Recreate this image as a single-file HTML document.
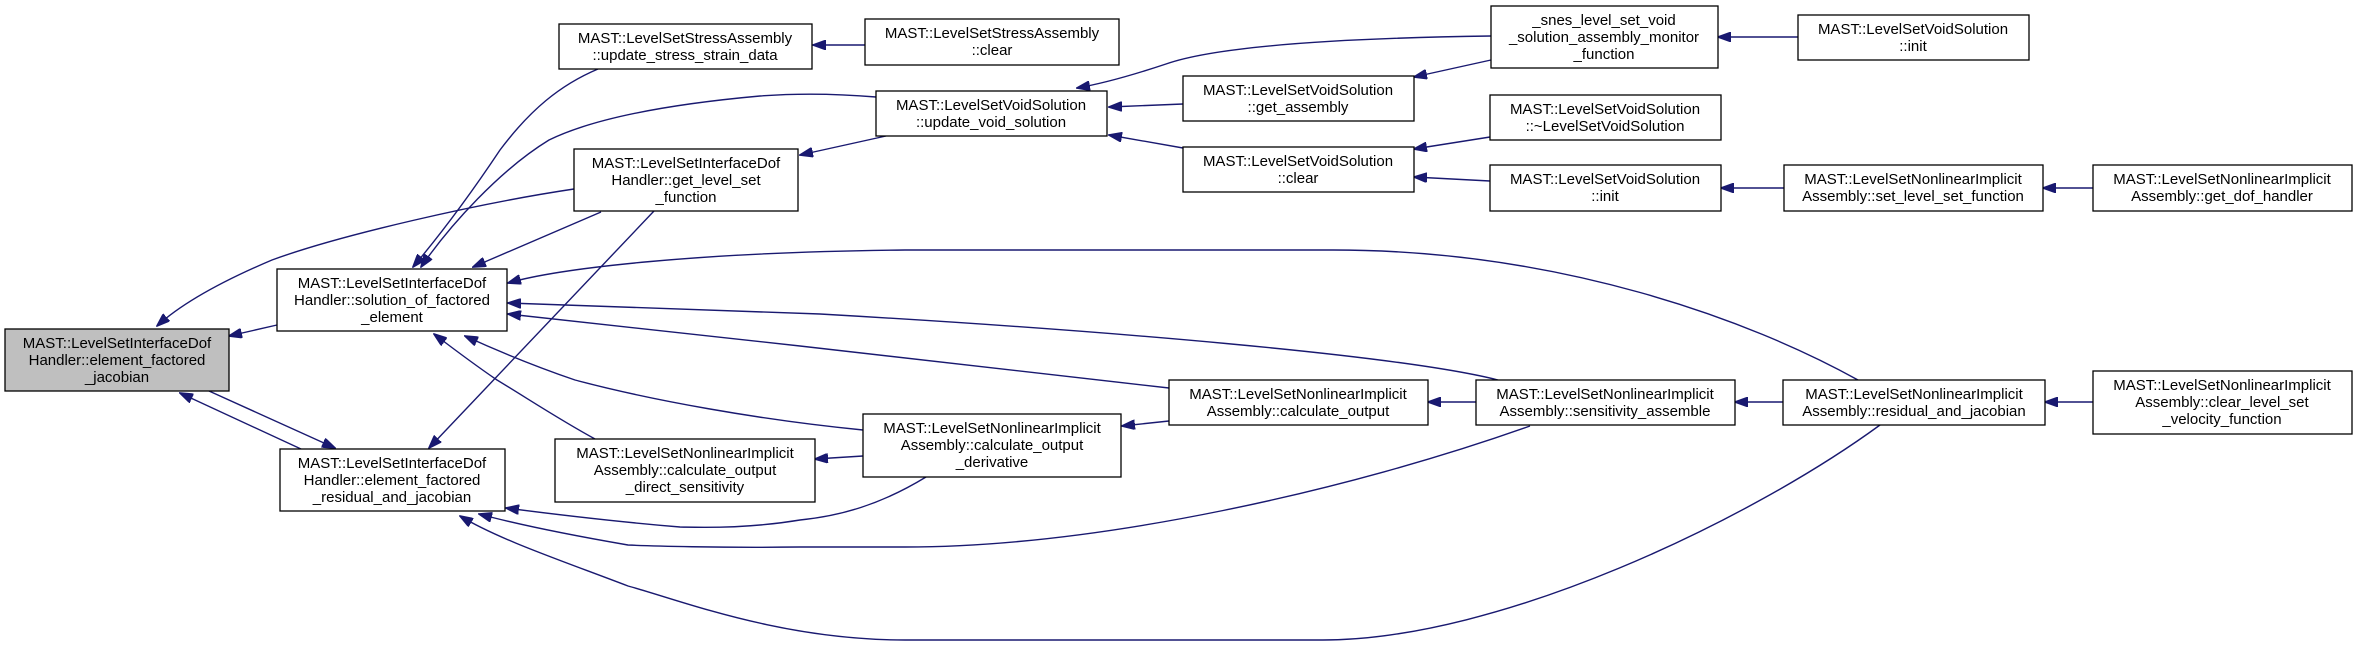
<!DOCTYPE html>
<html><head><meta charset="utf-8"><style>html,body{margin:0;padding:0;background:#fff}svg{display:block}text{font-family:"Liberation Sans",sans-serif;font-size:15px;fill:#000}</style></head>
<body>
<svg width="2357" height="647" viewBox="0 0 2357 647" xmlns="http://www.w3.org/2000/svg">
<defs><marker id="a" markerWidth="14" markerHeight="10" refX="13" refY="5" orient="auto" markerUnits="userSpaceOnUse"><path d="M0,0 L14,5 L0,10 Z" fill="#191970" stroke="#191970"/></marker></defs>
<g fill="none" stroke="#191970" stroke-width="1.4" marker-end="url(#a)">
<path d="M277,325 L229,336"/>
<path d="M574,189 C480,203 340,235 272,260 C220,282 180,305 157,326"/>
<path d="M301,449 L180,393"/>
<path d="M209,391 L335,448"/>
<path d="M598,69 C560,85 530,110 500,150 C470,195 440,235 413,267"/>
<path d="M876,97 C840,94 800,93 760,96 C660,105 590,120 549,140 C500,170 450,225 421,267"/>
<path d="M601,212 L473,267"/>
<path d="M886,136 L800,155"/>
<path d="M865,45 L813,45"/>
<path d="M1183,104 L1109,107"/>
<path d="M1183,148 L1109,135"/>
<path d="M1491,36 C1350,38 1220,45 1166,64 C1130,76 1100,84 1077,88"/>
<path d="M1491,60 L1414,77"/>
<path d="M1490,137 L1414,149"/>
<path d="M1490,181 L1414,177"/>
<path d="M1798,37 L1718,37"/>
<path d="M1784,188 L1721,188"/>
<path d="M2093,188 L2043,188"/>
<path d="M2093,402 L2045,402"/>
<path d="M1783,402 L1735,402"/>
<path d="M1476,402 L1428,402"/>
<path d="M1169,421 L1122,426"/>
<path d="M863,456 L815,459"/>
<path d="M1858,380 C1750,320 1560,250 1333,250 L905,250 C700,252 560,268 508,283"/>
<path d="M1498,380 C1400,355 1100,330 820,314 L508,303"/>
<path d="M1169,388 L800,346 L508,314"/>
<path d="M863,430 C760,420 650,400 575,380 C540,368 500,352 465,336"/>
<path d="M595,439 C560,420 530,400 497,380 C475,365 455,350 434,334"/>
<path d="M654,211 L429,448"/>
<path d="M926,477 C880,505 840,516 800,520 C740,530 690,527 680,527 C620,522 560,515 506,508"/>
<path d="M1530,426 C1350,490 1100,547 905,547 L800,547 C720,548 650,546 628,545 C570,535 520,525 479,514"/>
<path d="M1880,425 C1750,520 1500,640 1323,640 L905,640 C780,640 680,600 628,586 C560,560 500,540 460,516"/>
</g>
<g stroke="#000" stroke-width="1.3" fill="#fff">
<rect x="5" y="329" width="224" height="62" fill="#bfbfbf"/>
<rect x="277" y="269" width="230" height="62"/>
<rect x="280" y="449" width="225" height="62"/>
<rect x="559" y="24" width="253" height="45"/>
<rect x="574" y="149" width="224" height="62"/>
<rect x="555" y="439" width="260" height="63"/>
<rect x="865" y="19" width="254" height="46"/>
<rect x="876" y="91" width="231" height="45"/>
<rect x="1183" y="76" width="231" height="45"/>
<rect x="1183" y="147" width="231" height="45"/>
<rect x="1169" y="380" width="259" height="45"/>
<rect x="863" y="414" width="258" height="63"/>
<rect x="1491" y="6" width="227" height="62"/>
<rect x="1490" y="95" width="231" height="45"/>
<rect x="1490" y="165" width="231" height="46"/>
<rect x="1476" y="380" width="259" height="45"/>
<rect x="1798" y="15" width="231" height="45"/>
<rect x="1784" y="165" width="259" height="46"/>
<rect x="2093" y="165" width="259" height="46"/>
<rect x="1783" y="380" width="262" height="45"/>
<rect x="2093" y="371" width="259" height="63"/>
</g>
<g text-anchor="middle">
<text x="117" y="348">MAST::LevelSetInterfaceDof</text><text x="117" y="365">Handler::element_factored</text><text x="117" y="382">_jacobian</text>
<text x="392" y="288">MAST::LevelSetInterfaceDof</text><text x="392" y="305">Handler::solution_of_factored</text><text x="392" y="322">_element</text>
<text x="392" y="468">MAST::LevelSetInterfaceDof</text><text x="392" y="485">Handler::element_factored</text><text x="392" y="502">_residual_and_jacobian</text>
<text x="685" y="43">MAST::LevelSetStressAssembly</text><text x="685" y="60">::update_stress_strain_data</text>
<text x="686" y="168">MAST::LevelSetInterfaceDof</text><text x="686" y="185">Handler::get_level_set</text><text x="686" y="202">_function</text>
<text x="685" y="458">MAST::LevelSetNonlinearImplicit</text><text x="685" y="475">Assembly::calculate_output</text><text x="685" y="492">_direct_sensitivity</text>
<text x="992" y="38">MAST::LevelSetStressAssembly</text><text x="992" y="55">::clear</text>
<text x="991" y="110">MAST::LevelSetVoidSolution</text><text x="991" y="127">::update_void_solution</text>
<text x="1298" y="95">MAST::LevelSetVoidSolution</text><text x="1298" y="112">::get_assembly</text>
<text x="1298" y="166">MAST::LevelSetVoidSolution</text><text x="1298" y="183">::clear</text>
<text x="1298" y="399">MAST::LevelSetNonlinearImplicit</text><text x="1298" y="416">Assembly::calculate_output</text>
<text x="992" y="433">MAST::LevelSetNonlinearImplicit</text><text x="992" y="450">Assembly::calculate_output</text><text x="992" y="467">_derivative</text>
<text x="1604" y="25">_snes_level_set_void</text><text x="1604" y="42">_solution_assembly_monitor</text><text x="1604" y="59">_function</text>
<text x="1605" y="114">MAST::LevelSetVoidSolution</text><text x="1605" y="131">::~LevelSetVoidSolution</text>
<text x="1605" y="184">MAST::LevelSetVoidSolution</text><text x="1605" y="201">::init</text>
<text x="1605" y="399">MAST::LevelSetNonlinearImplicit</text><text x="1605" y="416">Assembly::sensitivity_assemble</text>
<text x="1913" y="34">MAST::LevelSetVoidSolution</text><text x="1913" y="51">::init</text>
<text x="1913" y="184">MAST::LevelSetNonlinearImplicit</text><text x="1913" y="201">Assembly::set_level_set_function</text>
<text x="2222" y="184">MAST::LevelSetNonlinearImplicit</text><text x="2222" y="201">Assembly::get_dof_handler</text>
<text x="1914" y="399">MAST::LevelSetNonlinearImplicit</text><text x="1914" y="416">Assembly::residual_and_jacobian</text>
<text x="2222" y="390">MAST::LevelSetNonlinearImplicit</text><text x="2222" y="407">Assembly::clear_level_set</text><text x="2222" y="424">_velocity_function</text>
</g>
</svg>
</body></html>
